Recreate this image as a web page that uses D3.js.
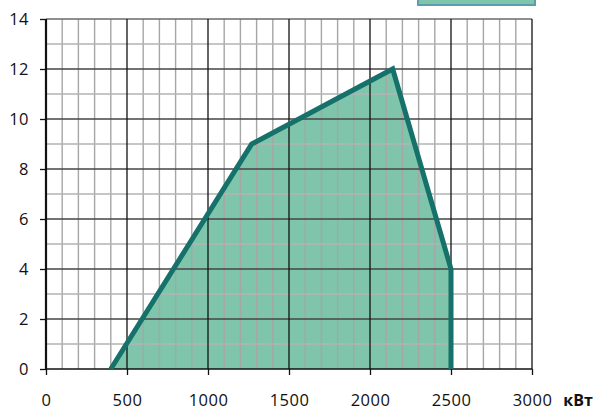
<!DOCTYPE html>
<html>
<head>
<meta charset="utf-8">
<script src="https://cdn.jsdelivr.net/npm/d3@7"></script>
<style>
  html, body { margin: 0; padding: 0; background: #fff; }
  svg { display: block; font-family: "Open Sans", "DejaVu Sans", sans-serif; }
</style>
</head>
<body>
<svg id="chart" width="603" height="410"></svg>
<script>
// Working-range envelope: power (kW) vs pressure
const powerKW = [400, 1270, 2140, 2500, 2500];
const pressure = [0, 9, 12, 4, 0];
const xTicks = [0, 500, 1000, 1500, 2000, 2500, 3000];
const yTicks = [0, 2, 4, 6, 8, 10, 12, 14];
const xUnit = "кВт";

const svg = d3.select("#chart");
const x = d3.scaleLinear().domain([0, 3000]).range([46, 532]);
const y = d3.scaleLinear().domain([0, 14]).range([369, 19]);

const pts = powerKW.map((v, i) => [x(v), y(pressure[i])]);

// legend swatch (partly above the top edge)
svg.append("rect")
  .attr("x", 418).attr("y", -20).attr("width", 117).attr("height", 25)
  .attr("fill", "#7ec5ab").attr("stroke", "#5b9fae").attr("stroke-width", 2);

// filled area
svg.append("path")
  .attr("d", "M" + pts.join("L") + "Z")
  .attr("fill", "#7ec5ab");

// minor grid
const g = svg.append("g");
d3.range(0, 3001, 100).filter(v => v % 500 !== 0).forEach(v => {
  g.append("line").attr("x1", x(v)).attr("x2", x(v)).attr("y1", y(0)).attr("y2", y(14))
    .attr("stroke", "#a6a6a6").attr("stroke-width", 1.4);
});
d3.range(1, 14, 2).forEach(v => {
  g.append("line").attr("x1", x(0)).attr("x2", x(3000)).attr("y1", y(v)).attr("y2", y(v))
    .attr("stroke", "#b3b3b3").attr("stroke-width", 1.4);
});
// major grid
yTicks.filter(v => v > 0).forEach(v => {
  g.append("line").attr("x1", x(0)).attr("x2", x(3000)).attr("y1", y(v)).attr("y2", y(v))
    .attr("stroke", v === 14 ? "#6a6a6a" : "#444").attr("stroke-width", 1.5);
});
xTicks.filter(v => v > 0).forEach(v => {
  g.append("line").attr("x1", x(v)).attr("x2", x(v)).attr("y1", y(0)).attr("y2", y(14))
    .attr("stroke", "#111").attr("stroke-width", 1.3);
});

// axes
const xAxis = d3.axisBottom(x).tickValues(xTicks).tickSize(6).tickFormat(d3.format("d"));
const yAxis = d3.axisLeft(y).tickValues(yTicks).tickSize(6).tickPadding(11);

const gx = svg.append("g").attr("transform", `translate(0,${y(0)})`).call(xAxis);
const gy = svg.append("g").attr("transform", `translate(${x(0)},0)`).call(yAxis);
[gx, gy].forEach(a => {
  a.select(".domain").remove();
  a.selectAll("line").attr("stroke", "#111").attr("stroke-width", 1.3);
  a.selectAll("text").attr("font-size", 16.5).attr("fill", "#111")
    .attr("letter-spacing", 0.5)
    .style("font-family", "'Open Sans', sans-serif");
});
// x labels sit on a fixed baseline near the bottom edge
gx.selectAll("text").attr("dy", null).attr("y", 405.5 - y(0));

svg.append("line").attr("x1", x(0)).attr("x2", x(3000)).attr("y1", y(0)).attr("y2", y(0))
  .attr("stroke", "#111").attr("stroke-width", 1.6);
svg.append("line").attr("x1", x(0)).attr("x2", x(0)).attr("y1", y(0)).attr("y2", y(14))
  .attr("stroke", "#111").attr("stroke-width", 2.2);

// outline of the envelope
svg.append("path")
  .attr("d", "M" + pts.join("L"))
  .attr("fill", "none")
  .attr("stroke", "#17716b").attr("stroke-width", 5)
  .attr("stroke-linejoin", "miter");

// unit label
svg.append("text").attr("x", 578).attr("y", 405.5).attr("text-anchor", "middle")
  .attr("font-size", 16).attr("font-weight", "bold").attr("fill", "#111")
  .text(xUnit);
</script>
</body>
</html>
